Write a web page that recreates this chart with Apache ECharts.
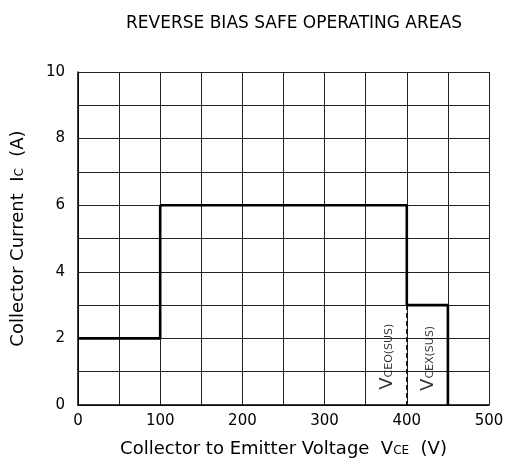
<!DOCTYPE html>
<html>
<head>
	<meta charset="utf-8">
	<title>Reverse Bias Safe Operating Areas</title>
	<style>
		html, body { margin: 0; padding: 0; background: #fff; }
		#chart1 { width: 508px; height: 467px; }
	</style>
</head>
<body>
	<div id="chart1"></div>

	<script src="https://cdn.jsdelivr.net/npm/echarts@6/dist/echarts.min.js"></script>
	<script type="text/javascript">

    // boundary of the VCEO(SUS) area (V, A)
    var vceoX = [0, 100, 100, 400, 400];
    var vceoY = [2, 2, 6, 6, 3];
    // dashed continuation of the 400 V edge
    var dashX = [400, 400];
    var dashY = [3, 0];
    // boundary of the VCEX(SUS) area
    var vcexX = [400, 450, 450];
    var vcexY = [3, 3, 0];
    // rotated curve labels
    var labelNames = ['CEO(SUS)', 'CEX(SUS)'];
    var labelX = [376, 426];
    var labelY = [1.45, 1.4];

    function pairs(xs, ys) {
        var out = [];
        for (var i = 0; i < xs.length; i++) out.push([xs[i], ys[i]]);
        return out;
    }

    var thick = {color: '#000', width: 2.6};
    var font = 'DejaVu Sans, sans-serif';

    var dom = document.getElementById('chart1');
    var myChart = echarts.init(dom);
    var option = {
        animation: false,
        title: {
            text: 'REVERSE BIAS SAFE OPERATING AREAS',
            left: 289,
            top: 10,
            textAlign: 'center',
            textStyle: {fontFamily: font, fontSize: 17, fontWeight: 'normal', color: '#000'}
        },
        grid: {left: 78, right: 19, top: 72, bottom: 62, outerBoundsMode: 'none'},
        xAxis: {
            type: 'value',
            min: 0, max: 500, interval: 50,
            name: 'Collector to Emitter Voltage  V{s|CE}  (V)',
            nameLocation: 'middle',
            nameGap: 35,
            nameTextStyle: {
                fontFamily: font, fontSize: 18, color: '#000',
                rich: {s: {fontFamily: font, fontSize: 12, color: '#000', padding: [4, 0, 0, 0]}}
            },
            axisLine: {show: true, onZero: false, lineStyle: {color: '#000', width: 1.5}},
            axisTick: {show: false},
            axisLabel: {
                fontFamily: font, fontSize: 15, color: '#000', margin: 9,
                formatter: function (v) { return v % 100 === 0 ? String(v) : ''; }
            },
            splitLine: {show: true, lineStyle: {color: '#222', width: 1}}
        },
        yAxis: {
            type: 'value',
            min: 0, max: 10, interval: 1,
            name: 'Collector Current  I{s|C}  (A)',
            nameLocation: 'middle',
            nameGap: 51,
            nameTextStyle: {
                fontFamily: font, fontSize: 18, color: '#000',
                rich: {s: {fontFamily: font, fontSize: 12, color: '#000', padding: [4, 0, 0, 0]}}
            },
            axisLine: {show: true, lineStyle: {color: '#000', width: 1.5}},
            axisTick: {show: false},
            axisLabel: {
                fontFamily: font, fontSize: 15, color: '#000', margin: 13,
                formatter: function (v) { return v % 2 === 0 ? String(v) : ''; }
            },
            splitLine: {show: true, lineStyle: {color: '#222', width: 1}}
        },
        series: [
            {
                type: 'line', data: pairs(vceoX, vceoY), symbol: 'none',
                lineStyle: thick, z: 5
            },
            {
                type: 'line', data: pairs(dashX, dashY), symbol: 'none',
                lineStyle: {color: '#000', width: 1.3, type: [5, 3]}, z: 5
            },
            {
                type: 'line', data: pairs(vcexX, vcexY), symbol: 'none',
                lineStyle: thick, z: 5
            },
            {
                type: 'scatter', symbolSize: 0, z: 6,
                data: pairs(labelX, labelY).map(function (p, i) {
                    return {value: p, name: labelNames[i]};
                }),
                label: {
                    show: true, position: 'inside', rotate: 90,
                    formatter: function (p) { return '{v|V}{s|' + p.name + '}'; },
                    rich: {
                        v: {fontFamily: font, fontSize: 18, color: '#000'},
                        s: {fontFamily: font, fontSize: 11, color: '#000', padding: [4, 0, 0, 0]}
                    }
                }
            }
        ]
    };
    myChart.setOption(option, true);

	</script>
</body>
</html>
